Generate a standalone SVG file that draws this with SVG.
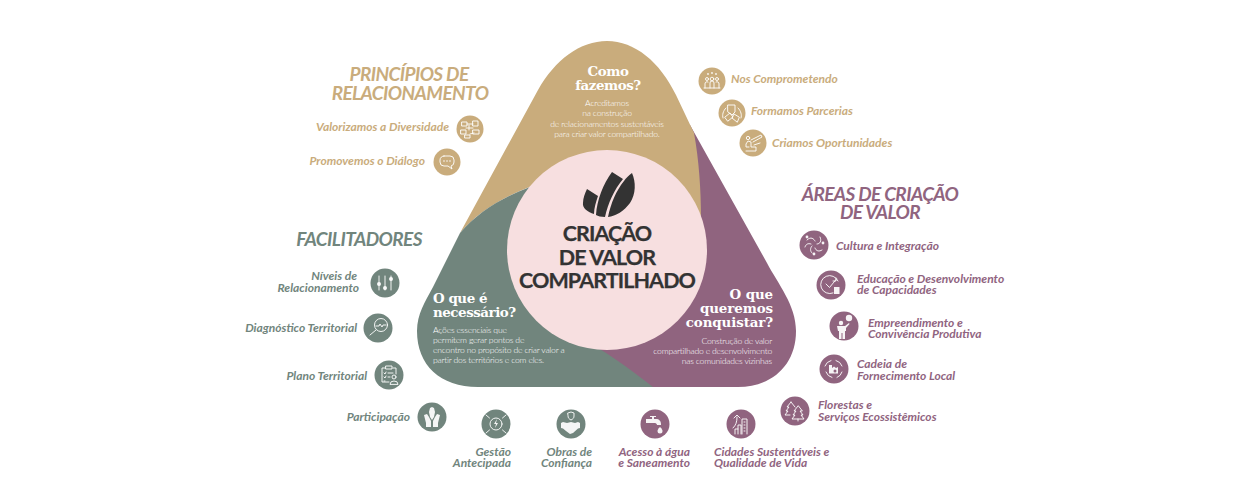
<svg xmlns="http://www.w3.org/2000/svg" width="1250" height="500" viewBox="0 0 1250 500">
<style>
text{font-family:Lato,"Liberation Sans",sans-serif}
.h{font-weight:700;font-style:italic;font-size:19px;letter-spacing:-.6px;text-anchor:middle}
.l{font-weight:700;font-style:italic;font-size:12px}
.e{text-anchor:end}
.m{text-anchor:middle}
.q{font-family:"DejaVu Serif",serif;font-weight:700;font-size:13.4px;letter-spacing:-.45px;fill:#fff}
.d{font-family:Roboto,sans-serif;font-weight:300;font-size:8.6px;letter-spacing:-.2px;fill:#fff}
.c{font-weight:700;font-size:21.5px;fill:#333;stroke:#333;stroke-width:.25;text-anchor:middle;letter-spacing:-.9px}
.t{fill:#c9ac7c}.p{fill:#90647f}.g{fill:#71857d}
.i{fill:none;stroke:#fff;stroke-width:1;stroke-linecap:round;stroke-linejoin:round;opacity:.9}
.s{fill:#fff;opacity:.92}
</style>
<g id="triangle">
<path id="seg-purple" class="p" d="M690 125L767 263C778 284 796 305 796 331C796 365 772 387 738 387L630 387L590 340L680 200Z"/>
<path id="seg-tan" class="t" d="M460 233L538 90C555 60 580 41 607 41C635 41 660 62 676 95L694 133C699 160 701 190 701 218L532 186C503 197 478 212 460 233Z"/>
<path id="seg-green" class="g" d="M460 233L433 287C425 302 417 314 417 331C417 365 440 387 478 387L653 387C635 373 618 360 598 348L530 187C503 197 478 212 460 233Z"/>
<circle id="center-circle" cx="607" cy="250" r="100" fill="#f7dfe0"/>
</g>
<g id="center">
<path fill="#333" d="M587 189L598 196C596 202 594 208 594 214C588 212 582 208 583 203C583 198 585 193 587 189Z"/>
<path fill="#333" d="M612 172L623 179C614 190 608 203 605 217C601 217 598 216 596 215C597 200 603 184 612 172Z"/>
<path fill="#333" d="M632 173C636 182 636 194 630 203C624 211 616 216 608 217C611 203 616 191 624 181C626 178 629 175 632 173Z"/>
<text class="c" x="607" y="241">CRIAÇÃO</text>
<text class="c" x="607" y="264.500">DE VALOR</text>
<text class="c" x="607" y="288">COMPARTILHADO</text>
</g>
<g id="como-fazemos">
<text class="q m" x="608" y="76">Como</text>
<text class="q m" x="608" y="89.500">fazemos?</text>
<g class="d m"><text x="607" y="106">Acreditamos</text><text x="607" y="116">na construção</text><text x="607" y="126.700">de relacionamentos sustentáveis</text><text x="607" y="136.700">para criar valor compartilhado.</text></g>
</g>
<g id="o-que-e-necessario">
<text class="q" x="433" y="302.700">O que é</text>
<text class="q" x="433" y="316.700">necessário?</text>
<g class="d"><text x="433" y="332.700">Ações essenciais que</text><text x="433" y="342.700">permitem gerar pontos de</text><text x="433" y="353">encontro no propósito de criar valor a</text><text x="433" y="363">partir dos territórios e com eles.</text></g>
</g>
<g id="o-que-queremos">
<text class="q e" x="773" y="299.300" style="letter-spacing:-.1px">O que</text>
<text class="q e" x="773" y="312.700" style="letter-spacing:-.1px">queremos</text>
<text class="q e" x="773" y="326.700" style="letter-spacing:-.1px">conquistar?</text>
<g class="d e"><text x="772" y="343.700">Construção de valor</text><text x="772" y="354">compartilhado e desenvolvimento</text><text x="772" y="364.300">nas comunidades vizinhas</text></g>
</g>
<g id="heading-principios" class="t"><text class="h" x="409" y="81">PRINCÍPIOS DE</text><text class="h" x="410" y="100">RELACIONAMENTO</text></g>
<g id="heading-facilitadores" class="g"><text class="h" x="359" y="246">FACILITADORES</text></g>
<g id="heading-areas" class="p"><text class="h" x="880" y="201">ÁREAS DE CRIAÇÃO</text><text class="h" x="880" y="219">DE VALOR</text></g>

<g id="valorizamos" class="t"><circle cx="470" cy="129" r="13.500"/><path class="i" d="M462 122h5v4h-5zM473 121h5v5h-5zM461 130h5v4h-5zM473 130h6v4h-6zM465 135h5v3h-5zM467 124h6M466 128h7M470 134l4-1M469 125v5"/><text class="l e" x="449" y="131">Valorizamos a Diversidade</text></g>
<g id="promovemos" class="t"><circle cx="447" cy="162" r="13.500"/><path class="i" stroke-width="1.200" d="M444 156h6a4 4 0 0 1 4 4v2a4 4 0 0 1-3 4l1 3-4-3h-4a4 4 0 0 1-4-4v-2a4 4 0 0 1 4-4z"/><circle class="s" cx="444" cy="161" r=".8"/><circle class="s" cx="447" cy="161" r=".8"/><circle class="s" cx="450" cy="161" r=".8"/><text class="l e" x="425" y="165">Promovemos o Diálogo</text></g>
<g id="comprometendo" class="t"><circle cx="712" cy="81" r="13.500"/><path class="i" d="M705 88v-4a2 2 0 0 1 3-2M710 88v-5a2 2 0 0 1 4 0v5M719 88v-4a2 2 0 0 0-3-2M704 88h16"/><circle class="i" cx="707" cy="79" r="1.500"/><circle class="i" cx="712" cy="79" r="1.800"/><circle class="i" cx="717" cy="79" r="1.500"/><circle class="s" cx="708" cy="74" r=".9"/><circle class="s" cx="712" cy="73" r=".9"/><circle class="s" cx="716" cy="74" r=".9"/><text class="l" x="731" y="83">Nos Comprometendo</text></g>
<g id="parcerias" class="t"><circle cx="732" cy="113" r="13.500"/><path class="i" d="M728 105h7v7l-3 3-4-3zM725 117l5-4 3 4-5 4zM739 117l-5-3-2 4 5 4zM726 108c-3 3-4 7-3 10M738 108c3 3 4 7 3 10"/><text class="l" x="751" y="115">Formamos Parcerias</text></g>
<g id="oportunidades" class="t"><circle cx="753" cy="143" r="13.500"/><path class="i" d="M746 151h10v-4h-5v-5l-3-1-2 3v3h3M751 140l10-5 1 2-9 5"/><circle class="i" cx="748" cy="138" r="1.700"/><path class="i" d="M754 145l6-2"/><text class="l" x="772" y="147">Criamos Oportunidades</text></g>

<g id="cultura" class="p"><circle cx="814" cy="245" r="14.500"/><path class="i" stroke-width="1.700" d="M807 240c4-4 7-1 8 1M820 237c2 4 0 7-3 7M822 250c-3 2-6 1-7-2M812 253c-2-2-2-5 0-7M805 247c1-3 3-4 6-3"/><circle class="s" cx="814" cy="254" r="1.400"/><circle class="s" cx="823" cy="243" r="1.400"/><circle class="s" cx="807" cy="237" r="1.400"/><text class="l" x="836" y="250">Cultura e Integração</text></g>
<g id="educacao" class="p"><circle cx="831" cy="285" r="14.500"/><path class="i" stroke-width="1.200" d="M838 281a9 9 0 1 0-5 12M826 284l3.500 3.500 7-8.500M836 278v3h-3"/><rect class="s" x="834" y="287" width="5.500" height="7"/><text class="l" x="857" y="283">Educação e Desenvolvimento</text><text class="l" x="857" y="294">de Capacidades</text></g>
<g id="empreendimento" class="p"><circle cx="844" cy="326" r="14.500"/><circle class="s" cx="841" cy="323" r="2.200"/><path class="s" d="M837 326h8l4-3 .5 1-3.500 4v3h-1v8h-2.500v-6h-1v6h-2.500v-8h-1z"/><circle class="s" cx="849" cy="318" r="3.200"/><text class="l" x="868" y="327">Empreendimento e</text><text class="l" x="868" y="338">Convivência Produtiva</text></g>
<g id="cadeia" class="p"><circle cx="834" cy="369" r="14.500"/><path class="i" d="M842 366a8.500 8.500 0 0 0-6-5.500M831 360.500a8.500 8.500 0 0 0-6 5.500M826 372a8.500 8.500 0 0 0 6 5.500M837 377.500a8.500 8.500 0 0 0 5-5.500"/><path class="s" d="M829 365h3v3l2-1.500 2 1.500 2-1v6.500h-9z"/><circle cx="835" cy="371" r="1.500" fill="#90647f"/><text class="l" x="857" y="368">Cadeia de</text><text class="l" x="857" y="380">Fornecimento Local</text></g>
<g id="florestas" class="p"><circle cx="795" cy="411" r="14.500"/><path class="i" d="M791 402l-4 5h2l-3 4h2l-3 4h5M791 402l4 5M798 406l-4 5h2l-3 4h2l-3 4h12l-3-4h2l-3-4h2zM798 419v2"/><text class="l" x="818" y="409">Florestas e</text><text class="l" x="818" y="421">Serviços Ecossistêmicos</text></g>

<g id="niveis" class="g"><circle cx="385" cy="283" r="14.500"/><path class="i" stroke-width="1.700" d="M379 276v14M385 276v14M391 276v14"/><circle class="s" cx="379" cy="284" r="2"/><circle class="s" cx="385" cy="288" r="2"/><circle class="s" cx="391" cy="279" r="2"/><text class="l e" x="357" y="280">Níveis de</text><text class="l e" x="359" y="292">Relacionamento</text></g>
<g id="diagnostico" class="g"><circle cx="378" cy="328" r="14.500"/><circle class="i" stroke-width="1.500" cx="381" cy="325" r="6.500"/><path class="i" stroke-width="2.800" d="M376 330l-6 5"/><path class="i" d="M376 326h3l1-2 2 3 1-2h3"/><text class="l e" x="357" y="332">Diagnóstico Territorial</text></g>
<g id="plano" class="g"><circle cx="389" cy="375" r="14.500"/><path class="i" d="M385 368h-3v14h7M393 368h3v6M386 366h6v3h-6zM384 373l1 1 1-2M388 373h5M384 377l1 1 1-2M388 377h2M384 381h1"/><circle class="i" cx="394" cy="377" r="2"/><path class="i" d="M390 384a4 3 0 0 1 8 0z"/><text class="l e" x="367" y="380">Plano Territorial</text></g>
<g id="participacao" class="g"><circle cx="432" cy="417" r="14.500"/><path class="s" d="M424 415l3-1 2 3 2 4v6h-5v-4zM440 415l-3-1-2 3-2 4v6h5v-4z"/><path class="s" d="M429 412l1-4 2-1 2 1 1 4-1 5-2 3-2-3z"/><text class="l e" x="410" y="421">Participação</text></g>
<g id="gestao" class="g"><circle cx="496" cy="424" r="14.500"/><circle class="i" stroke-width="1.400" cx="496" cy="424" r="6"/><path class="i" stroke-width="2.200" d="M486 415l3.500 3M506 415l-3.500 3M486 433l3.500-3M506 433l-3.500-3"/><path class="s" d="M497 419l-3 5h2l-1 4 3-5h-2z"/><text class="l e" x="511" y="456">Gestão</text><text class="l e" x="511" y="467">Antecipada</text></g>
<g id="obras" class="g"><circle cx="571" cy="424" r="14.500"/><path class="i" d="M568 413l3-1 3 1v3c0 2-1 3-3 4-2-1-3-2-3-4z"/><path class="s" d="M561 423l2-1 4 1 4-1 4 1 3-1 2 1v5l-2 .5-5 4.500-3 1-4-3-3-2.500-2-.5z"/><text class="l e" x="592" y="456">Obras de</text><text class="l e" x="592" y="467">Confiança</text></g>
<g id="acesso" class="p"><circle cx="655" cy="424" r="14.500"/><path class="s" d="M646 419h6v-2h-2v-1h6v1h-2v2h2c3 0 5 2 5 5v1h-4c0-1-1-2-2-2h-9z"/><path class="s" d="M660 427c2 2 2.500 3 2.500 4a2.500 2.500 0 0 1-5 0c0-1 .5-2 2.500-4z"/><text class="l e" x="690" y="456">Acesso à água</text><text class="l e" x="690" y="467">e Saneamento</text></g>
<g id="cidades" class="p"><circle cx="741" cy="424" r="14.500"/><path class="i" d="M738 434v-9h3v9M742 434v-15h5v15M735 434v-5h3M744 422h1M744 425h1M744 428h1M744 431h1"/><path class="i" stroke-width="1.800" d="M733 428c3-3 4-6 4-11M734 418l3-3 3 3"/><text class="l" x="714" y="456">Cidades Sustentáveis e</text><text class="l" x="714" y="467">Qualidade de Vida</text></g>
</svg>
